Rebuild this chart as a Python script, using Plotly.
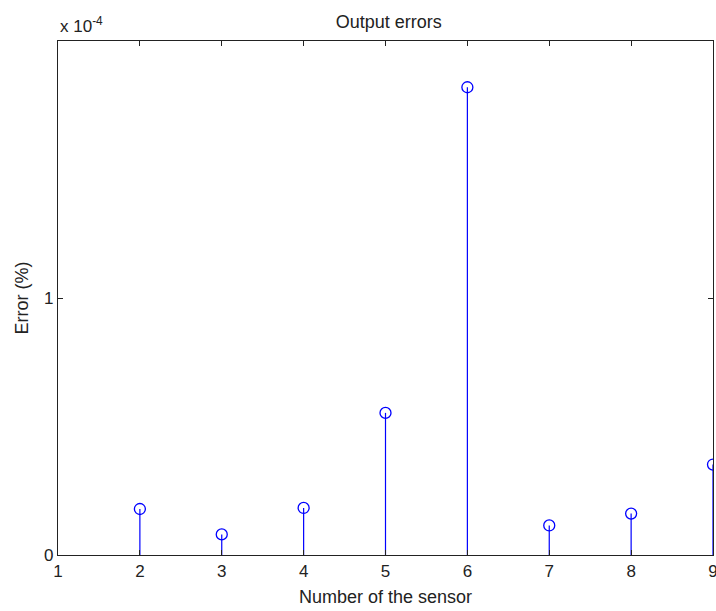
import plotly.graph_objects as go

sensors = [2, 3, 4, 5, 6, 7, 8, 9]
errors_e4 = [0.179, 0.080, 0.183, 0.553, 1.82, 0.115, 0.161, 0.352]  # in units of 1e-4
x_ticks = [1, 2, 3, 4, 5, 6, 7, 8, 9]
y_ticks = [0, 1]

stem_x, stem_y = [], []
for s, e in zip(sensors, errors_e4):
    stem_x += [s, s, None]
    stem_y += [0, e, None]

blue = "rgb(0,0,255)"
font = "Liberation Sans, Arial, sans-serif"
txt = "#222"

fig = go.Figure()
fig.add_trace(go.Scatter(x=stem_x, y=stem_y, mode="lines",
                         line=dict(color=blue, width=1.2), hoverinfo="skip", showlegend=False))
fig.add_trace(go.Scatter(x=sensors, y=errors_e4, mode="markers",
                         marker=dict(symbol="circle-open", size=11, color=blue, line=dict(width=1.3, color=blue)),
                         showlegend=False, cliponaxis=True))

axis_common = dict(showline=True, linecolor="#222", linewidth=1.3, mirror="ticks",
                   ticks="inside", ticklen=5, tickcolor="#222", showgrid=False, zeroline=False,
                   automargin=False, ticklabeloverflow="allow",
                   tickfont=dict(family=font, size=17, color=txt))

fig.update_layout(
    width=716, height=611,
    margin=dict(l=58, r=3, t=41, b=56),
    paper_bgcolor="white", plot_bgcolor="white",
    title=dict(text="Output errors", x=0.543, xanchor="center", y=0.964, yanchor="middle",
               font=dict(family=font, size=18, color=txt)),
    xaxis=dict(range=[1, 9], tickvals=x_ticks, ticktext=[str(v) for v in x_ticks],
               title=dict(text="Number of the sensor", font=dict(family=font, size=18, color=txt), standoff=10),
               **axis_common),
    yaxis=dict(range=[0, 2], tickvals=y_ticks, ticktext=[str(v) for v in y_ticks],
               title=dict(text="Error (%)", font=dict(family=font, size=18, color=txt), standoff=10),
               **axis_common),
    annotations=[dict(text="x 10<sup>-4</sup>", xref="paper", yref="paper", x=0, y=1.006,
                      xanchor="left", yanchor="bottom", showarrow=False,
                      font=dict(family=font, size=17, color=txt))],
)

fig.write_html("out.html", config={"displayModeBar": False},
               post_script="document.body.style.margin='0';document.body.style.overflow='hidden';")
